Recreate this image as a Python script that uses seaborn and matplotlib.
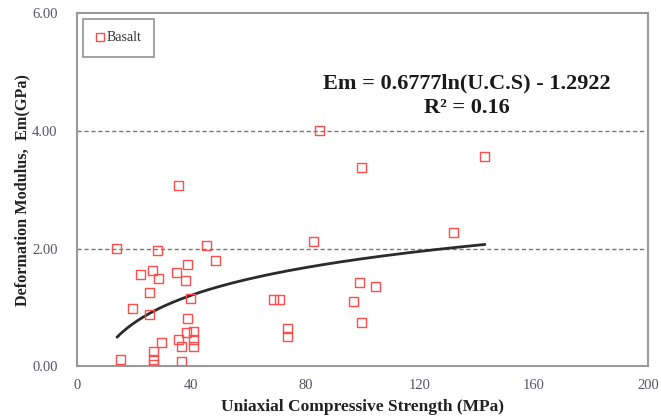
import numpy as np
import pandas as pd
import matplotlib
matplotlib.use("Agg")
import matplotlib.pyplot as plt
import seaborn as sns

# Basalt test results: uniaxial compressive strength (MPa) vs deformation modulus (GPa)
ucs = [14.0, 35.7, 28.1, 45.5, 48.6, 38.6, 22.4, 26.4, 28.7, 34.7, 37.9, 25.3,
       39.9, 19.5, 25.3, 38.8, 38.4, 40.7, 40.7, 35.7, 36.7, 40.7, 29.7, 26.7,
       26.7, 26.7, 15.4, 36.7, 68.8, 70.9, 73.8, 73.8, 98.9, 104.6, 96.8, 99.7,
       99.7, 142.9, 131.8, 84.8, 82.8]
em = [2.00, 3.08, 1.97, 2.06, 1.80, 1.73, 1.56, 1.63, 1.50, 1.60, 1.46, 1.26,
      1.15, 0.98, 0.885, 0.82, 0.57, 0.60, 0.46, 0.45, 0.33, 0.33, 0.40, 0.26,
      0.12, 0.035, 0.11, 0.09, 1.13, 1.13, 0.65, 0.50, 1.42, 1.35, 1.11, 0.74,
      3.38, 3.56, 2.28, 4.00, 2.12]

# Logarithmic trend line: Em = a ln(UCS) + b
fit_a = 0.6777
fit_b = -1.2922
r_squared = 0.16

x_ticks = [0, 40, 80, 120, 160, 200]
y_ticks = [0.0, 2.0, 4.0, 6.0]

sns.set_theme(style="white")
plt.rcParams["font.family"] = ["Liberation Serif", "DejaVu Serif"]

fig = plt.figure(figsize=(6.61, 4.20), dpi=100)
ax = fig.add_axes([0.1165, 0.1276, 0.8638, 0.8414])

df = pd.DataFrame({"UCS": ucs, "Em": em})
sns.scatterplot(data=df, x="UCS", y="Em", ax=ax, marker="s", s=42,
                facecolor="none", edgecolor="#ff4d4d", linewidth=1.0,
                label="Basalt", zorder=3)

xs = np.linspace(min(ucs), max(ucs), 200)
trend = pd.DataFrame({"UCS": xs, "Em": fit_a * np.log(xs) + fit_b})
sns.lineplot(data=trend, x="UCS", y="Em", ax=ax, color="#2b2b2b",
             linewidth=2.0, legend=False, zorder=2)

ax.set_xlim(0, 200)
ax.set_ylim(0, 6)
ax.set_xticks(x_ticks)
ax.set_xticklabels([str(t) for t in x_ticks])
ax.set_yticks(y_ticks)
ax.set_yticklabels([f"{t:.2f}" for t in y_ticks])
ax.tick_params(axis="both", direction="in", length=3, width=1, color="#666666",
               labelsize=10.5, labelcolor="#555566")
ax.tick_params(axis="y", pad=14)
ax.tick_params(axis="x", pad=9)

for y in [2.0, 4.0]:
    ax.axhline(y, color="#777777", linestyle=(0, (3, 2)), linewidth=1.0, zorder=1)

for sp in ax.spines.values():
    sp.set_color("#999999")
    sp.set_linewidth(1.5)

ax.set_xlabel("Uniaxial Compressive Strength (MPa)", fontsize=12.5,
              fontweight="bold", color="#222222", labelpad=5)
ax.set_ylabel("Deformation Modulus,  Em(GPa)", fontsize=11.7,
              fontweight="bold", color="#222222", labelpad=1)

ax.text(0.683, 0.800, "Em = 0.6777ln(U.C.S) - 1.2922", transform=ax.transAxes,
        ha="center", va="center", fontsize=16, fontweight="bold",
        color="#1a1a1a")
ax.text(0.683, 0.732, f"R² = {r_squared:.2f}", transform=ax.transAxes,
        ha="center", va="center", fontsize=16, fontweight="bold",
        color="#1a1a1a")

leg = ax.legend(loc="upper left", bbox_to_anchor=(0.0, 1.0), frameon=True,
                fancybox=False, edgecolor="#777777", fontsize=10,
                handlelength=0.7, handletextpad=0.1, borderpad=0.9,
                borderaxespad=0.4, markerscale=0.9)
leg.get_frame().set_linewidth(1.2)
for t in leg.get_texts():
    t.set_color("#333333")

fig.savefig("out.png", dpi=100)
